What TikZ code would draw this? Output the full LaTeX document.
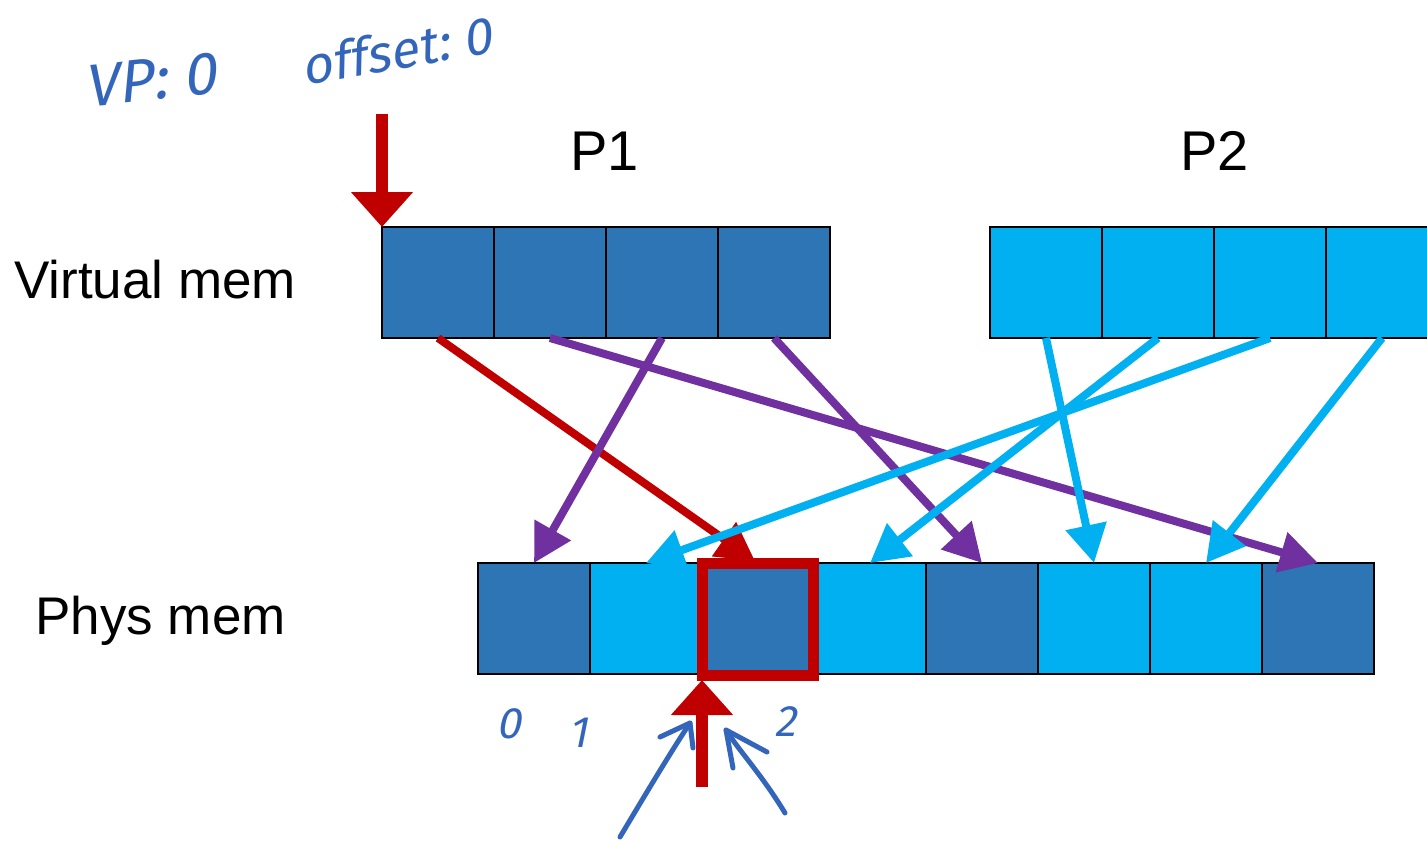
\documentclass[tikz,border=0pt]{standalone}
\usepackage{fontspec}
\setmainfont{Liberation Sans}
\newfontfamily\handfont{Fira Sans}[FakeSlant=0.2]
\usetikzlibrary{arrows.meta}
\definecolor{dkblue}{HTML}{2E75B6}
\definecolor{ltblue}{HTML}{00B0F0}
\definecolor{redc}{HTML}{C00000}
\definecolor{purp}{HTML}{7030A0}
\definecolor{handc}{HTML}{3366BB}
\begin{document}
\begin{tikzpicture}[x=0.5pt,y=-0.5pt,
  cell/.style={draw=black, line width=1pt, minimum width=56pt, minimum height=55.5pt, inner sep=0pt, outer sep=0pt},
  dk/.style={cell, fill=dkblue},
  lt/.style={cell, fill=ltblue},
  conn/.style={line width=4pt, -{Triangle[length=19pt,width=20pt]}},
  bigred/.style={draw=redc, line width=6pt, -{Triangle[length=17.5pt,width=30pt]}},
  lbl/.style={font=\fontsize{26.5}{30}\selectfont, anchor=base west, inner sep=0pt},
  plbl/.style={font=\fontsize{28}{32}\selectfont, anchor=base west, inner sep=0pt},
  hand/.style={text=handc, font=\handfont\fontsize{30}{34}\selectfont, inner sep=0pt},
  handnum/.style={text=handc, font=\handfont\fontsize{22}{26}\selectfont, inner sep=0pt},
  handline/.style={draw=handc, line width=2.5pt, line cap=round, line join=round}
]
\useasboundingbox (0,0) rectangle (1427,840);

% labels
\node[lbl] (vlabel) at (14,298) {Virtual mem};
\node[lbl] (plabel) at (35,634) {Phys mem};
\node[plbl] (p1label) at (570,170) {P1};
\node[plbl] (p2label) at (1180,170) {P2};

% virtual memory P1
\node[dk] (v1) at (438,282.5) {};
\node[dk] (v2) at (550,282.5) {};
\node[dk] (v3) at (662,282.5) {};
\node[dk] (v4) at (774,282.5) {};
% virtual memory P2
\node[lt] (w1) at (1046,282.5) {};
\node[lt] (w2) at (1158,282.5) {};
\node[lt] (w3) at (1270,282.5) {};
\node[lt] (w4) at (1382,282.5) {};

% physical memory
\node[dk] (m1) at (534,618.5) {};
\node[lt] (m2) at (646,618.5) {};
\node[dk] (m3) at (758,618.5) {};
\node[lt] (m4) at (870,618.5) {};
\node[dk] (m5) at (982,618.5) {};
\node[lt] (m6) at (1094,618.5) {};
\node[lt] (m7) at (1206,618.5) {};
\node[dk] (m8) at (1318,618.5) {};

% connectors
\draw[conn, draw=redc, fill=redc] (v1.south) -- ([xshift=-1.5pt,yshift=1pt]m3.north);
\draw[conn, draw=purp, fill=purp] (v2.south) -- (m8.north);
\draw[conn, draw=purp, fill=purp] (v3.south) -- (m1.north);
\draw[conn, draw=purp, fill=purp] (v4.south) -- (m5.north);
\draw[conn, draw=ltblue, fill=ltblue] (w1.south) -- (m6.north);
\draw[conn, draw=ltblue, fill=ltblue] (w2.south) -- (m4.north);
\draw[conn, draw=ltblue, fill=ltblue] (w3.south) -- (m2.north);
\draw[conn, draw=ltblue, fill=ltblue] (w4.south) -- (m7.north);

% highlight
\draw[draw=redc, line width=5.5pt] (m3.north west) rectangle ([shift={(-0.5,1)}]m3.south east);

% red pointer arrows
\coordinate (topstart) at (382,114);
\coordinate (botstart) at (702,787);
\draw[bigred, fill=redc] (topstart) -- (v1.north west);
\draw[bigred, fill=redc] (botstart) -- ([yshift=-3]m3.south west);

% handwriting
\node[hand, rotate=6] (vp) at (150,80) {VP:~0};
\node[hand, rotate=10, font=\handfont\fontsize{26}{30}\selectfont] (off) at (396,50) {of{}fset:~0};
\node[handnum] (n0) at (509,724) {0};
\node[handnum] (n1) at (578,733) {1};
\node[handnum] (n2) at (785,722) {2};

% hand-drawn arrows
\coordinate (ha1s) at (620,837);
\coordinate (ha1e) at (690,723);
\coordinate (ha2s) at (785,813);
\coordinate (ha2e) at (726,730);
\draw[handline] (ha1s) .. controls (648,790) and (672,750) .. (ha1e);
\draw[handline] (660,737) -- (ha1e) -- (693,748);
\draw[handline] (ha2s) .. controls (762,775) and (740,752) .. (ha2e);
\draw[handline] (733,768) -- (ha2e) -- (767,752);
\end{tikzpicture}
\end{document}
